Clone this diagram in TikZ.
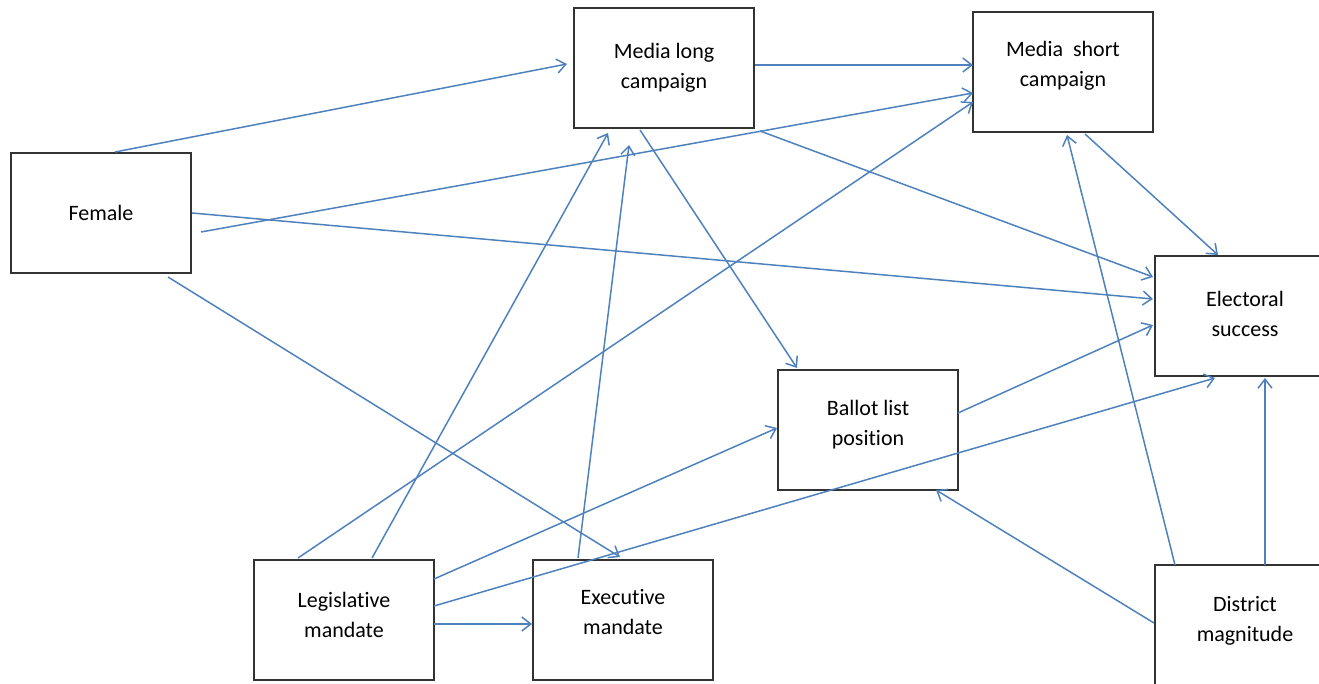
\documentclass[tikz,border=0pt]{standalone}
\usepackage{fontspec}
\setmainfont[Ligatures={NoCommon}]{Carlito}
\usetikzlibrary{arrows.meta,calc}
\definecolor{arr}{RGB}{79,129,189}
\begin{document}
\begin{tikzpicture}[x=1pt,y=-1pt,
  box/.style 2 args={draw=black!80,line width=1.8pt,minimum width=180pt,minimum height=120pt,
    inner sep=0pt,fill=white,
    label={[align=center,font=\fontsize{22}{30}\selectfont,yshift=#1pt]center:#2}},
  link/.style={draw=arr,line width=1.5pt,-{Straight Barb[length=9pt,width=14pt]}}]
\useasboundingbox (0,0) rectangle (1319,684);
\clip (0,0) rectangle (1319,684);
\node[box={0}{Media long\\campaign}] (ml) at (664,68) {};
\node[box={6}{Media\ \ short\\campaign}] (ms) at (1063,72) {};
\node[box={0}{Female}] (fem) at (101,213) {};
\node[box={2}{Electoral\\success}] (es) at (1245,316) {};
\node[box={5}{Ballot list\\position}] (bl) at (868,430) {};
\node[box={5}{Legislative\\mandate}] (lm) at (344,620) {};
\node[box={8}{Executive\\mandate}] (em) at (623,620) {};
\node[box={4}{District\\magnitude}] (dm) at (1245,625) {};
% connectors
\draw[link] ($(fem.center)+(14,-61)$) -- ($(ml.center)+(-97,-4)$);
\draw[link] ($(fem.center)+(100,19)$) -- ($(ms.center)+(-90,21)$);
\draw[link] ($(fem.center)+(91,0)$) -- ($(es.center)+(-92,-17)$);
\draw[link] ($(fem.center)+(67,64)$) -- ($(em.center)+(-3,-63)$);
\draw[link] ($(ml.center)+(-24,62)$) -- ($(bl.center)+(-71,-62)$);
\draw[link] ($(ml.center)+(96,63)$) -- ($(es.center)+(-92,-39)$);
\draw[link] ($(ml.center)+(91,-3)$) -- ($(ms.center)+(-90,-7)$);
\draw[link] ($(ms.center)+(22,62)$) -- ($(es.center)+(-27,-61)$);
\draw[link] ($(lm.center)+(28,-62)$) -- ($(ml.center)+(-56,65)$);
\draw[link] ($(lm.center)+(-46,-62)$) -- ($(ms.center)+(-90,30)$);
\draw[link] ($(em.center)+(-45,-62)$) -- ($(ml.center)+(-35,77)$);
\draw[link] ($(lm.center)+(90,-41)$) -- ($(bl.center)+(-91,-2)$);
\draw[link] ($(lm.center)+(90,-14)$) -- ($(es.center)+(-30,62)$);
\draw[link] ($(lm.center)+(90,4)$) -- ($(em.center)+(-91,4)$);
\draw[link] ($(bl.center)+(90,-17)$) -- ($(es.center)+(-92,9)$);
\draw[link] ($(dm.center)+(-91,-2)$) -- ($(bl.center)+(68,60)$);
\draw[link] ($(dm.center)+(-70,-60)$) -- ($(ms.center)+(4,63)$);
\draw[link] ($(dm.center)+(20,-60)$) -- ($(es.center)+(20,62)$);
\end{tikzpicture}
\end{document}
